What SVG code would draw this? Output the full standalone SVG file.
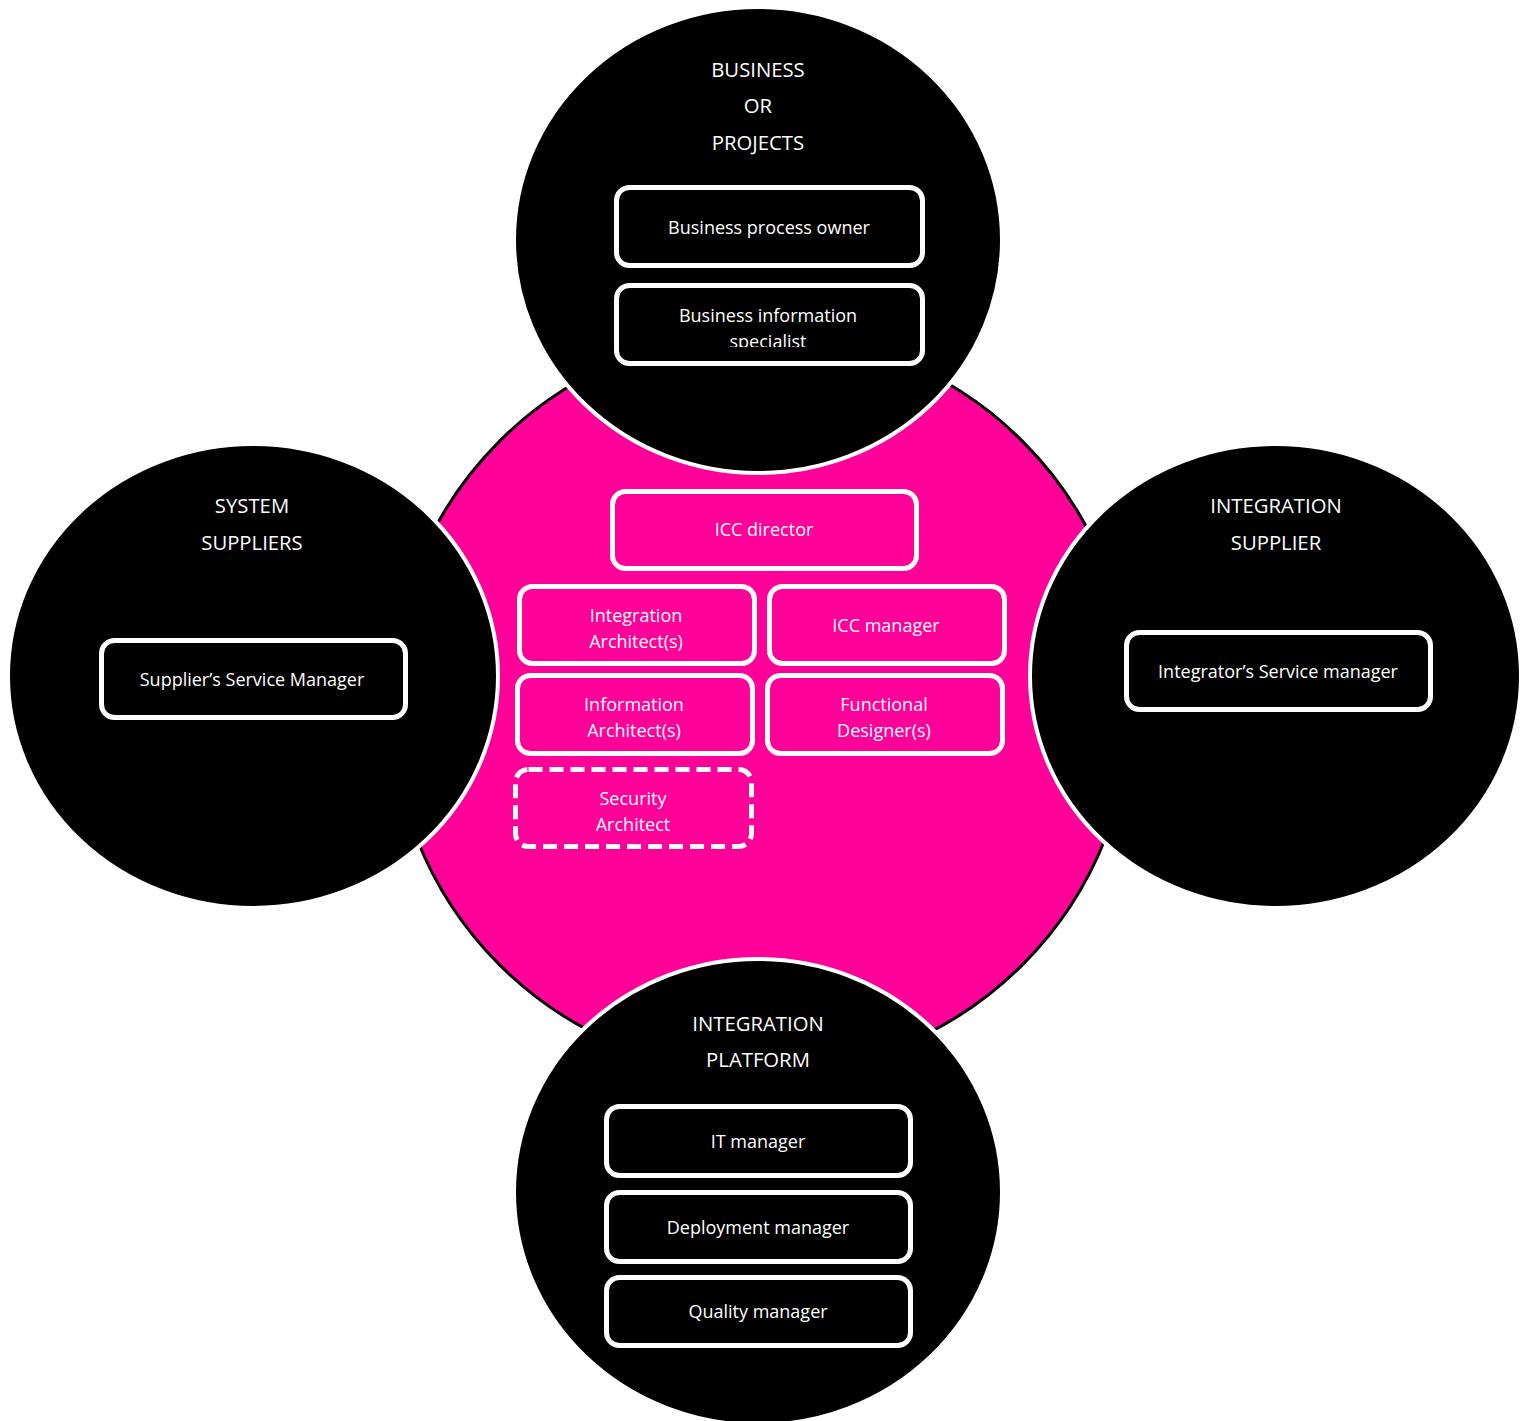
<svg xmlns="http://www.w3.org/2000/svg" width="1527" height="1421" viewBox="0 0 1527 1421">
  <style>
    .core { fill: #ff0099; stroke: #000000; stroke-width: 3; }
    .group { fill: #000000; stroke: #ffffff; stroke-width: 4; }
    .role-dark { fill: #000000; stroke: #ffffff; stroke-width: 5; }
    .role-pink { fill: #ff0099; stroke: #ffffff; stroke-width: 5; }
    .dashed { stroke-dasharray: 14 7; }
    text { font-family: "Open Sans", "Liberation Sans", sans-serif; fill: #ffffff; text-anchor: middle; }
    .head { font-size: 20.3px; }
    .label { font-size: 18px; }
  </style>
  <defs>
    <clipPath id="clip-bis"><rect x="619" y="288" width="301" height="59"/></clipPath>
    <clipPath id="clip-ia"><rect x="522" y="589" width="230" height="63"/></clipPath>
    <clipPath id="clip-info"><rect x="520" y="678" width="230" height="63"/></clipPath>
    <clipPath id="clip-fd"><rect x="770" y="678" width="230" height="63"/></clipPath>
  </defs>

  <!-- central competence centre -->
  <g id="icc">
    <circle class="core" cx="761" cy="703" r="370"/>
  </g>

  <!-- surrounding parties -->
  <g id="business">
    <ellipse class="group" cx="758" cy="240" rx="244" ry="233"/>
    <text class="head" x="758" y="77">BUSINESS</text>
    <text class="head" x="758" y="113">OR</text>
    <text class="head" x="758" y="150">PROJECTS</text>
  </g>
  <g id="system-suppliers">
    <ellipse class="group" cx="253" cy="676" rx="245" ry="232"/>
    <text class="head" x="252" y="513">SYSTEM</text>
    <text class="head" x="252" y="550">SUPPLIERS</text>
  </g>
  <g id="integration-supplier">
    <ellipse class="group" cx="1275.5" cy="676" rx="245.5" ry="232"/>
    <text class="head" x="1276" y="513">INTEGRATION</text>
    <text class="head" x="1276" y="550">SUPPLIER</text>
  </g>
  <g id="integration-platform">
    <ellipse class="group" cx="758" cy="1192" rx="244" ry="233"/>
    <text class="head" x="758" y="1031">INTEGRATION</text>
    <text class="head" x="758" y="1067">PLATFORM</text>
  </g>

  <!-- business roles -->
  <g id="business-process-owner">
    <rect class="role-dark" x="616.5" y="187.5" width="306" height="78" rx="13"/>
    <text class="label" x="769" y="234">Business process owner</text>
  </g>
  <g id="business-information-specialist">
    <rect class="role-dark" x="616.5" y="285.5" width="306" height="78" rx="13"/>
    <g clip-path="url(#clip-bis)">
      <text class="label" x="768" y="322">Business information</text>
      <text class="label" x="768" y="348">specialist</text>
    </g>
  </g>

  <!-- ICC roles -->
  <g id="icc-director">
    <rect class="role-pink" x="612.5" y="491.5" width="304" height="77" rx="13"/>
    <text class="label" x="764" y="536">ICC director</text>
  </g>
  <g id="integration-architect">
    <rect class="role-pink" x="519.5" y="586.5" width="235" height="77" rx="13"/>
    <g clip-path="url(#clip-ia)">
      <text class="label" x="636" y="622">Integration</text>
      <text class="label" x="636" y="648">Architect(s)</text>
    </g>
  </g>
  <g id="icc-manager">
    <rect class="role-pink" x="769.5" y="586.5" width="235" height="77" rx="13"/>
    <text class="label" x="886" y="632">ICC manager</text>
  </g>
  <g id="information-architect">
    <rect class="role-pink" x="517.5" y="675.5" width="235" height="78" rx="13"/>
    <g clip-path="url(#clip-info)">
      <text class="label" x="634" y="711">Information</text>
      <text class="label" x="634" y="737">Architect(s)</text>
    </g>
  </g>
  <g id="functional-designer">
    <rect class="role-pink" x="767.5" y="675.5" width="235" height="78" rx="13"/>
    <g clip-path="url(#clip-fd)">
      <text class="label" x="884" y="711">Functional</text>
      <text class="label" x="884" y="737">Designer(s)</text>
    </g>
  </g>
  <g id="security-architect">
    <rect class="role-pink dashed" x="515.5" y="769.5" width="236" height="77" rx="13"/>
    <text class="label" x="633" y="805">Security</text>
    <text class="label" x="633" y="831">Architect</text>
  </g>

  <!-- supplier roles -->
  <g id="suppliers-service-manager">
    <rect class="role-dark" x="101.5" y="640.5" width="304" height="77" rx="13"/>
    <text class="label" x="252" y="686">Supplier’s Service Manager</text>
  </g>
  <g id="integrators-service-manager">
    <rect class="role-dark" x="1126.5" y="632.5" width="304" height="77" rx="13"/>
    <text class="label" x="1278" y="678">Integrator’s Service manager</text>
  </g>

  <!-- platform roles -->
  <g id="it-manager">
    <rect class="role-dark" x="606.5" y="1106.5" width="304" height="69" rx="13"/>
    <text class="label" x="758" y="1148">IT manager</text>
  </g>
  <g id="deployment-manager">
    <rect class="role-dark" x="606.5" y="1192.5" width="304" height="69" rx="13"/>
    <text class="label" x="758" y="1234">Deployment manager</text>
  </g>
  <g id="quality-manager">
    <rect class="role-dark" x="606.5" y="1277.5" width="304" height="68" rx="13"/>
    <text class="label" x="758" y="1318">Quality manager</text>
  </g>

  <!-- no connectors in this chart -->
  <g id="connectors"/>
</svg>
